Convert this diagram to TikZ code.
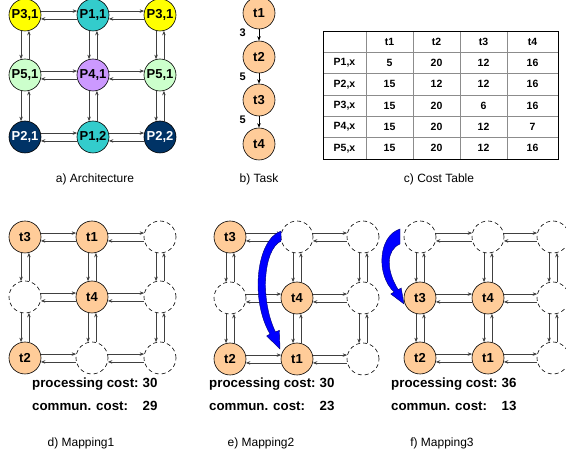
\documentclass[tikz,border=0pt]{standalone}
\usepackage{fontspec}
\setmainfont{Liberation Sans}
\usetikzlibrary{arrows.meta}
\definecolor{pyellow}{RGB}{255,255,0}
\definecolor{pteal}{RGB}{51,204,204}
\definecolor{pgreen}{RGB}{204,255,204}
\definecolor{plilac}{RGB}{204,153,255}
\definecolor{pnavy}{RGB}{0,51,102}
\definecolor{torange}{RGB}{255,204,153}
\definecolor{moveblue}{RGB}{0,0,255}
\tikzset{
	pe/.style={circle,draw,line width=0.6pt,minimum size=32pt,inner sep=0pt,font=\fontsize{13}{13}\selectfont\bfseries},
	task/.style={pe,fill=torange},
	free/.style={circle,draw,line width=0.6pt,dash pattern=on 4pt off 3pt,minimum size=32pt,inner sep=0pt},
	link/.style={->,black!75,line width=0.7pt},
	cell/.style={inner sep=0pt,font=\fontsize{10.5}{10.5}\selectfont\bfseries},
	weight/.style={inner sep=0pt,font=\fontsize{11}{11}\selectfont\bfseries},
	caption/.style={inner sep=0pt,font=\fontsize{12}{12}\selectfont},
	cost/.style={inner sep=0pt,anchor=west,font=\fontsize{13.3}{23}\selectfont\bfseries},
	move/.style={fill=moveblue,draw=blue!45!black,line width=0.4pt},
}
% both links between neighbours of a 3x3 mesh named #1<row><col>
\newcommand\meshlinks[1]{%
	\foreach \r in {1,2,3}{\foreach \c/\n in {1/2,2/3}{
		\draw[link] (#1\r\c.14) -- (#1\r\n.166);
		\draw[link] (#1\r\n.194) -- (#1\r\c.-14);
		\draw[link] (#1\c\r.-104) -- (#1\n\r.104);
		\draw[link] (#1\n\r.76) -- (#1\c\r.-76);
	}}}
\begin{document}
\begin{tikzpicture}[>={Stealth[length=4.5pt,width=3.5pt]},x=1pt,y=-1pt]
	\useasboundingbox (0,0) rectangle (566,465);
	\clip (0,0) rectangle (566,465);
	% a) architecture
	\node[pe,fill=pyellow] (a11) at (25,15) {P3,1};
	\node[pe,fill=pteal] (a12) at (93,15) {P1,1};
	\node[pe,fill=pyellow] (a13) at (160,15) {P3,1};
	\node[pe,fill=pgreen] (a21) at (25,75) {P5,1};
	\node[pe,fill=plilac] (a22) at (93,75) {P4,1};
	\node[pe,fill=pgreen] (a23) at (160,75) {P5,1};
	\node[pe,fill=pnavy,text=white] (a31) at (25,137) {P2,1};
	\node[pe,fill=pteal] (a32) at (93,137) {P1,2};
	\node[pe,fill=pnavy,text=white] (a33) at (160,137) {P2,2};
	\meshlinks{a}
	\node[caption] (capA) at (95,179) {a) Architecture};
	% b) task graph
	\node[task] (t1) at (259,13) {t1};
	\node[task] (t2) at (259,57) {t2};
	\node[task] (t3) at (259,100) {t3};
	\node[task] (t4) at (259,144) {t4};
	\draw[->,line width=0.6pt] (t1) -- node[weight,left=13pt,yshift=2pt]{3} (t2);
	\draw[->,line width=0.6pt] (t2) -- node[weight,left=13pt,yshift=2pt]{5} (t3);
	\draw[->,line width=0.6pt] (t3) -- node[weight,left=13pt,yshift=2pt]{5} (t4);
	\node[caption] (capB) at (259,179) {b) Task};
	% c) cost table
	\foreach \x in {366,413,460,507} \draw[black!45,line width=0.8pt] (\x,31) -- (\x,159);
	\foreach \y in {52.33,73.67,95,116.33,137.67} \draw[black!45,line width=0.8pt] (323,\y) -- (558,\y);
	\draw[line width=0.8pt] (323,31) rectangle (558,159);
	\foreach \h/\x in {t1/389.5,t2/436.5,t3/483.5,t4/532.5}
		\node[cell] (h\h) at (\x,41.67) {\h};
	\foreach \lab/\va/\vb/\vc/\vd [count=\i] in {P1{,}x/5/20/12/16,P2{,}x/15/12/12/16,P3{,}x/15/20/6/16,P4{,}x/15/20/12/7,P5{,}x/15/20/12/16}{
		\pgfmathsetmacro\yy{41.67+21.33*\i}
		\node[cell] (p\i) at (344.5,\yy) {\lab};
		\node[cell] (p\i t1) at (389.5,\yy) {\va};
		\node[cell] (p\i t2) at (436.5,\yy) {\vb};
		\node[cell] (p\i t3) at (483.5,\yy) {\vc};
		\node[cell] (p\i t4) at (532.5,\yy) {\vd};
	}
	\node[caption] (capC) at (439,179) {c) Cost Table};
	% d) mapping 1
	\node[task] (b11) at (25,237) {t3};
	\node[task] (b12) at (92,237) {t1};
	\node[free] (b13) at (160,237) {};
	\node[free] (b21) at (25,297) {};
	\node[task] (b22) at (92,297) {t4};
	\node[free] (b23) at (160,297) {};
	\node[task] (b31) at (25,358) {t2};
	\node[free] (b32) at (92,358) {};
	\node[free] (b33) at (160,358) {};
	\meshlinks{b}
	\node[cost] (costD) at (32,394.5) {\begin{tabular}{@{}l@{\hspace{4pt}}r@{}}processing cost:&30\\commun. cost:&29\end{tabular}};
	\node[caption] (capD) at (81,443) {d) Mapping1};
	% e) mapping 2
	\node[task] (c11) at (230,237) {t3};
	\node[free] (c12) at (297,237) {};
	\node[free] (c13) at (363,237) {};
	\node[free] (c21) at (230,298) {};
	\node[task] (c22) at (297,298) {t4};
	\node[free] (c23) at (363,298) {};
	\node[task] (c31) at (230,359) {t2};
	\node[task] (c32) at (297,359) {t1};
	\node[free] (c33) at (363,359) {};
	\meshlinks{c}
	\node[cost] (costE) at (209,394.5) {\begin{tabular}{@{}l@{\hspace{4pt}}r@{}}processing cost:&30\\commun. cost:&23\end{tabular}};
	\node[caption] (capE) at (261,443) {e) Mapping2};
	% f) mapping 3
	\node[free] (d11) at (420,237) {};
	\node[free] (d12) at (488,237) {};
	\node[free] (d13) at (553,237) {};
	\node[task] (d21) at (420,298) {t3};
	\node[task] (d22) at (488,298) {t4};
	\node[free] (d23) at (553,298) {};
	\node[task] (d31) at (420,358) {t2};
	\node[task] (d32) at (488,358) {t1};
	\node[free] (d33) at (553,358) {};
	\meshlinks{d}
	\node[cost] (costF) at (391,394.5) {\begin{tabular}{@{}l@{\hspace{4pt}}r@{}}processing cost:&36\\commun. cost:&13\end{tabular}};
	\node[caption] (capF) at (442,443) {f) Mapping3};
	% moves of t1 and t3
	\path[move] (281,231) .. controls (256,240) and (250,300) .. (270,334) -- (266.6,336) -- (280,349)
		-- (279.4,330.3) -- (275.5,332) .. controls (260,300) and (263,250) .. (281,241) -- cycle;
	\path[move] (400,229) .. controls (378,236) and (376,275) .. (394,292) -- (390.8,294) -- (404,304)
		-- (401.2,288) -- (398.2,289.7) .. controls (386,270) and (386,250) .. (400,244) -- cycle;
\end{tikzpicture}
\end{document}
